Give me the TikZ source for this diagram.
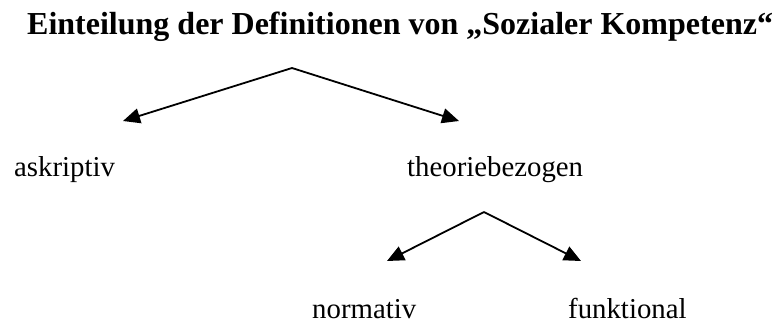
\documentclass[tikz,border=0pt]{standalone}
\usepackage{fontspec}
\setmainfont{Liberation Serif}
\usetikzlibrary{arrows.meta}

\begin{document}
\begin{tikzpicture}[x=1bp, y=-1bp, >={Triangle[length=17bp, width=15bp]},
  label/.style={anchor=base west, inner sep=0pt, font=\fontsize{28.8bp}{34bp}\selectfont},
  head/.style={anchor=base west, inner sep=0pt, font=\fontsize{32bp}{38bp}\selectfont\bfseries},
  branch/.style={->, line width=1.8bp}]
\useasboundingbox (0,0) rectangle (776,324);

% ---- title ------------------------------------------------------------------
\node[head] (title) at (27,34) {Einteilung der Definitionen von „Sozialer Kompetenz“};

% ---- first split ------------------------------------------------------------
\coordinate (top) at (292,68);
\coordinate (askEnd) at (123,121);
\coordinate (theoEnd) at (459,121);
\node[label] (ask)  at (14,176)  {askriptiv};
\node[label] (theo) at (407,176) {theoriebezogen};
\draw[branch] (top) -- (askEnd);
\draw[branch] (top) -- (theoEnd);

% ---- second split -----------------------------------------------------------
\coordinate (sub) at (484,212);
\coordinate (normEnd) at (387,261);
\coordinate (funkEnd) at (581,261);
\node[label] (norm) at (312,318) {normativ};
\node[label] (funk) at (568,318) {funktional};
\draw[branch] (sub) -- (normEnd);
\draw[branch] (sub) -- (funkEnd);

\end{tikzpicture}
\end{document}
